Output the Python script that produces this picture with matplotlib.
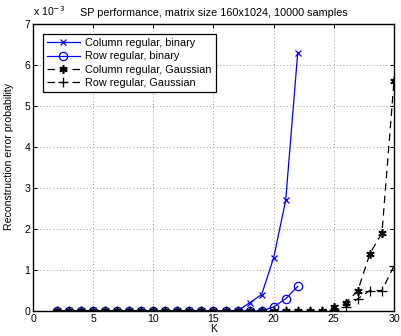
import numpy as np
from matplotlib import pyplot as plt
from matplotlib.ticker import FuncFormatter

# K values and error probabilities (x 1e-3)
k_bin = np.arange(2, 23)
k_gau = np.arange(2, 31)
col_bin = np.array([0] * 16 + [0.2, 0.4, 1.3, 2.7, 6.3]) * 1e-3
row_bin = np.array([0] * 18 + [0.1, 0.3, 0.6]) * 1e-3
col_gau = np.array([0] * 23 + [0.1, 0.2, 0.5, 1.4, 1.9, 5.6]) * 1e-3
row_gau = np.array([0] * 23 + [0.02, 0.1, 0.3, 0.5, 0.5, 1.1]) * 1e-3

labels = ["Column regular, binary", "Row regular, binary",
          "Column regular, Gaussian", "Row regular, Gaussian"]

plt.rcParams['font.family'] = ['Liberation Sans', 'DejaVu Sans']
plt.rcParams['font.size'] = 7.6

fig = plt.figure(figsize=(4.01, 3.36), dpi=100)
ax = fig.add_axes([0.0823, 0.0744, 0.9002, 0.8542])

ax.plot(k_bin, col_bin, color="blue", lw=0.9, marker="x", ms=4, mew=0.9, label=labels[0])
ax.plot(k_bin, row_bin, color="blue", lw=0.9, marker="o", ms=6, mfc="none", mew=0.9, label=labels[1])
ax.plot(k_gau, col_gau, color="black", lw=0.9, ls=(0, (6, 4)), marker=(6, 2, 0), ms=6, mew=1.2, label=labels[2])
ax.plot(k_gau, row_gau, color="black", lw=0.9, ls=(0, (6, 4)), marker="+", ms=6.5, mew=0.9, label=labels[3])

ax.set_xlim(0, 30)
ax.set_ylim(0, 7e-3)
ax.set_xticks(np.arange(0, 31, 5))
ax.set_yticks(np.arange(0, 8) * 1e-3)
ax.yaxis.set_major_formatter(FuncFormatter(lambda v, p: f"{v * 1e3:.0f}"))
ax.grid(True, ls=(0, (1, 3)), color="0.45", lw=0.6)
ax.tick_params(direction="in", length=3, width=0.7, top=True, right=True, pad=2)
for sp in ax.spines.values():
    sp.set_linewidth(1.0)

ax.set_xlabel("K", labelpad=0)
ax.set_ylabel("Reconstruction error probability")
ax.yaxis.set_label_coords(-0.052, 0.54)
ax.set_title("SP performance, matrix size 160x1024, 10000 samples", fontsize=7.8, pad=6)
fig.text(0.082, 0.945, r"x 10$^{-3}$", fontsize=7.6, ha="left", va="bottom")

leg = ax.legend(loc="upper left", bbox_to_anchor=(0.012, 0.985), fancybox=False,
                edgecolor="black", framealpha=1, handlelength=3.0, fontsize=7.8,
                borderpad=0.4, labelspacing=0.3, handletextpad=0.5)
leg.get_frame().set_linewidth(0.9)

fig.savefig("out.png", dpi=100)
